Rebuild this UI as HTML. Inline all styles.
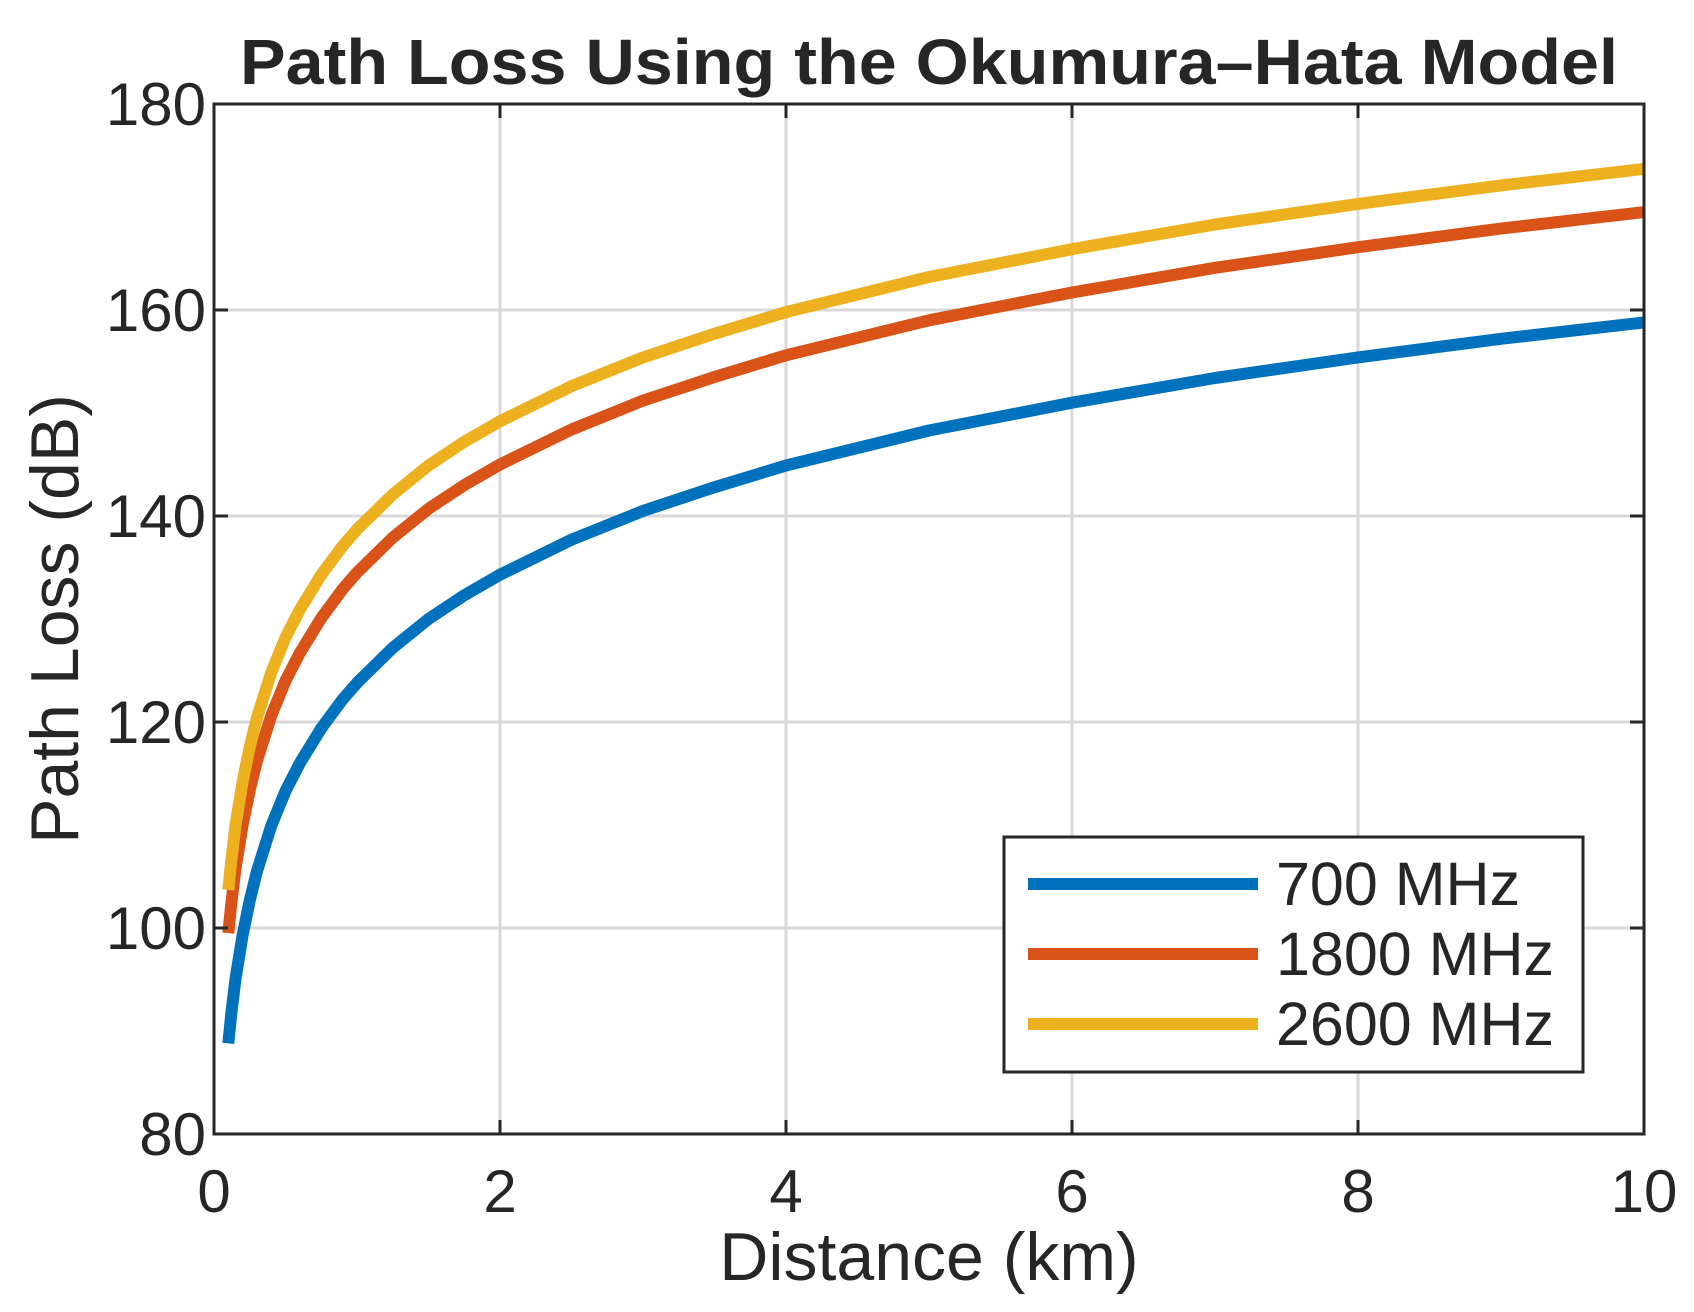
<!DOCTYPE html>
<html><head><meta charset="utf-8"><style>
html,body{margin:0;padding:0;background:#fff;}
svg{display:block;font-family:"Liberation Sans",Arial,sans-serif;}
</style></head><body>
<svg id="chart" width="1694" height="1312" viewBox="0 0 1694 1312" xmlns="http://www.w3.org/2000/svg">
<rect width="1694" height="1312" fill="#fff"/>
<g id="grid"></g>
<g id="series"></g>
<rect x="214" y="104" width="1430" height="1030" fill="none" stroke="#262626" stroke-width="3"/>
<g id="ticks"></g>
<text x="929" y="84" text-anchor="middle" font-size="64" font-weight="bold" fill="#262626" textLength="1378" lengthAdjust="spacingAndGlyphs">Path Loss Using the Okumura–Hata Model</text>
<text x="929" y="1280" text-anchor="middle" font-size="68" fill="#262626">Distance (km)</text>
<text transform="translate(78,619) rotate(-90)" text-anchor="middle" font-size="68" fill="#262626">Path Loss (dB)</text>
<g>
<rect x="1004" y="837" width="579" height="235" fill="#fff" stroke="#262626" stroke-width="3"/>
<g id="legend-items"></g>
</g>
</svg>
<script>
const distances = [0.1,0.12,0.15,0.2,0.25,0.3,0.4,0.5,0.6,0.75,0.9,1,1.25,1.5,1.75,2,2.5,3,3.5,4,5,6,7,8,9,10];
const pl700  = [88.8,91.6,95.0,99.3,102.7,105.5,109.9,113.3,116.0,119.4,122.2,123.8,127.2,130.0,132.3,134.3,137.7,140.5,142.8,144.9,148.3,151.0,153.4,155.4,157.2,158.8];
const pl1800 = [99.5,102.3,105.7,110.0,113.4,116.2,120.6,124.0,126.7,130.1,132.9,134.5,137.9,140.7,143.0,145.0,148.4,151.2,153.5,155.6,159.0,161.7,164.1,166.1,167.9,169.5];
const pl2600 = [103.7,106.5,109.9,114.2,117.6,120.4,124.8,128.2,130.9,134.3,137.1,138.7,142.1,144.9,147.2,149.2,152.6,155.4,157.7,159.8,163.2,165.9,168.3,170.3,172.1,173.7];
const seriesNames = ["700 MHz","1800 MHz","2600 MHz"];
const seriesColors = ["#0072BD","#D95319","#EDB120"];
const xTicks = [0,2,4,6,8,10];
const yTicks = [80,100,120,140,160,180];

const NS="http://www.w3.org/2000/svg";
const L=214,R=1644,T=104,B=1134;
const xs=v=>L+(v-0)/(10-0)*(R-L);
const ys=v=>B-(v-80)/(180-80)*(B-T);
function mk(tag,attrs,parent){const e=document.createElementNS(NS,tag);for(const k in attrs)e.setAttribute(k,attrs[k]);parent.appendChild(e);return e;}
const grid=document.getElementById('grid'),ticks=document.getElementById('ticks'),ser=document.getElementById('series'),leg=document.getElementById('legend-items');
xTicks.forEach(t=>{
  const g=mk('line',{x1:xs(t),x2:xs(t),y1:T,y2:B,stroke:'#d9d9d9','stroke-width':3},grid);
  
  
  const tk=mk('line',{x1:xs(t),x2:xs(t),y1:B,y2:B-14,stroke:'#262626','stroke-width':3},ticks);
  
  
  const tk2=mk('line',{x1:xs(t),x2:xs(t),y1:T,y2:T+14,stroke:'#262626','stroke-width':3},ticks);
  
  
  const lb=mk('text',{x:xs(t),y:B+78,'text-anchor':'middle','font-size':60,fill:'#262626'},ticks);
  lb.textContent=t;
  
  
});
yTicks.forEach(t=>{
  const g=mk('line',{x1:L,x2:R,y1:ys(t),y2:ys(t),stroke:'#d9d9d9','stroke-width':3},grid);
  
  
  const tk=mk('line',{x1:L,x2:L+14,y1:ys(t),y2:ys(t),stroke:'#262626','stroke-width':3},ticks);
  
  
  const tk2=mk('line',{x1:R,x2:R-14,y1:ys(t),y2:ys(t),stroke:'#262626','stroke-width':3},ticks);
  
  
  const lb=mk('text',{x:L-8,y:ys(t)+21,'text-anchor':'end','font-size':60,fill:'#262626'},ticks);
  lb.textContent=t;
  
  
});
[pl700,pl1800,pl2600].forEach((vals,i)=>{
  const d=vals.map((v,j)=>(j?'L':'M')+xs(distances[j]).toFixed(1)+','+ys(v).toFixed(1)).join(' ');
  const p=mk('path',{d:d,fill:'none',stroke:seriesColors[i],'stroke-width':12,'stroke-linejoin':'round'},ser);
  
  
  const ly=884+i*70;
  const ll=mk('line',{x1:1028,x2:1258,y1:ly,y2:ly,stroke:seriesColors[i],'stroke-width':12},leg);
  
  
  const lt=mk('text',{x:1276,y:ly+21,'font-size':61,fill:'#262626'},leg);
  lt.textContent=seriesNames[i];
  
  
});
</script>
</body></html>
